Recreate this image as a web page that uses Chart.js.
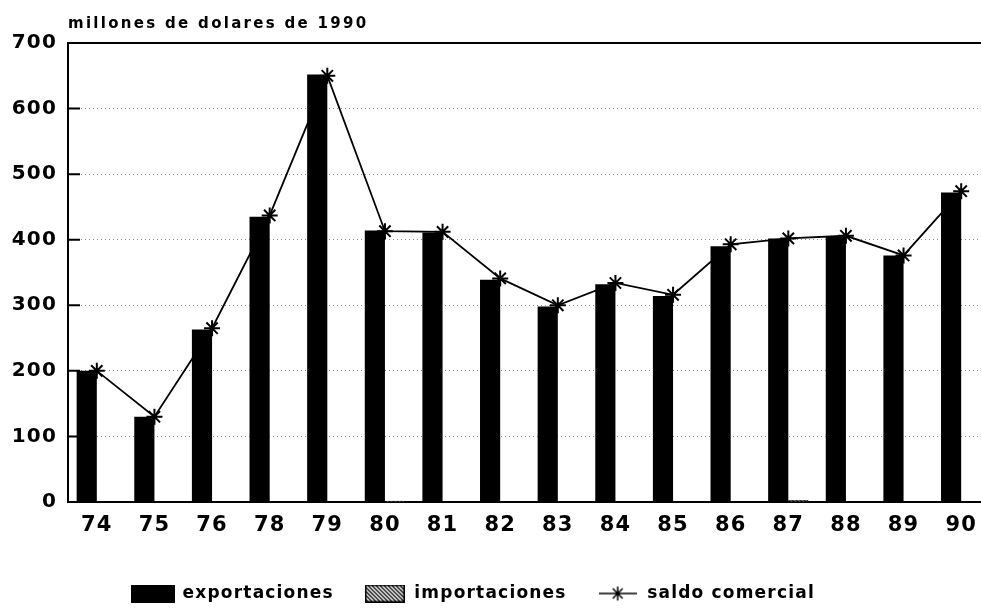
<!DOCTYPE html>
<html>
<head>
<meta charset="utf-8">
<script src="https://cdn.jsdelivr.net/npm/chart.js@4"></script>
<style>
  html, body { margin: 0; padding: 0; background: #fff; overflow: hidden; }
  #wrap { width: 1000px; height: 612px; position: relative; }
</style>
</head>
<body>
<div id="wrap"><canvas id="chart"></canvas></div>
<script>
// Datos (millones de dolares de 1990)
const anios = ["74","75","76","78","79","80","81","82","83","84","85","86","87","88","89","90"];
const exportaciones = [200,130,263,435,652,414,411,339,298,332,314,390,402,404,376,472];
const importaciones = [0,0,0,0,0,2,0,0,0,0,0,0,3,0,0,0];
const saldoComercial = [200,130,265,437,650,413,412,341,300,334,316,393,402,406,376,474];
const ticksY = [0,100,200,300,400,500,600,700];

const FONT = "'DejaVu Sans', sans-serif";
const SPACING = "1.2px";

// Trama rayada para importaciones
function makeHatch(w, h) {
  const c = document.createElement("canvas");
  c.width = w; c.height = h;
  const g = c.getContext("2d");
  g.fillStyle = "#fff";
  g.fillRect(0, 0, w, h);
  g.strokeStyle = "#000";
  g.lineWidth = 1.3;
  for (let i = -h; i < w + h; i += 4) {
    g.beginPath();
    g.moveTo(i, 0);
    g.lineTo(i + h, h);
    g.stroke();
  }
  return c;
}
const hatchTile = makeHatch(8, 8);
const hatchPattern = hatchTile.getContext("2d").createPattern(hatchTile, "repeat");

// Iconos de la leyenda
function boxIcon(w, h) {
  const c = document.createElement("canvas");
  c.width = w; c.height = h;
  const g = c.getContext("2d");
  g.fillStyle = "#000";
  g.fillRect(0, 0, w, h);
  return c;
}
function hatchIcon(w, h) {
  const c = makeHatch(w, h);
  const g = c.getContext("2d");
  g.strokeStyle = "#000";
  g.lineWidth = 1.5;
  g.strokeRect(0.75, 0.75, w - 1.5, h - 1.5);
  return c;
}
function starLineIcon(w, h) {
  const c = document.createElement("canvas");
  c.width = w; c.height = h;
  const g = c.getContext("2d");
  g.strokeStyle = "#000";
  g.lineWidth = 1.5;
  g.beginPath();
  g.moveTo(0, h / 2); g.lineTo(w, h / 2);
  const cx = w / 2, cy = h / 2, r = 7;
  for (let k = 0; k < 4; k++) {
    const a = k * Math.PI / 4;
    g.moveTo(cx - r * Math.cos(a), cy - r * Math.sin(a));
    g.lineTo(cx + r * Math.cos(a), cy + r * Math.sin(a));
  }
  g.stroke();
  return c;
}

// Titulo, marco superior, marcas interiores del eje Y y espaciado de letras
const extras = {
  id: "extras",
  beforeLayout(chart) { chart.ctx.letterSpacing = SPACING; },
  afterLayout(chart) {
    // la leyenda del original esta algo a la izquierda del centro
    chart.legend.left -= 22;
    chart.legend.right -= 22;
  },
  beforeDraw(chart) { chart.ctx.letterSpacing = SPACING; },
  afterDraw(chart) {
    const { ctx, chartArea } = chart;
    const y = chart.scales.y;
    ctx.save();
    ctx.strokeStyle = "#000";
    ctx.lineWidth = 2;
    ctx.beginPath();
    ctx.moveTo(chartArea.left, chartArea.top);
    ctx.lineTo(chartArea.right, chartArea.top);
    ticksY.forEach(v => {
      const py = y.getPixelForValue(v);
      ctx.moveTo(chartArea.left, py);
      ctx.lineTo(chartArea.left + 12, py);
    });
    ctx.stroke();
    ctx.fillStyle = "#000";
    ctx.font = "bold 15px " + FONT;
    ctx.letterSpacing = "2.3px";
    ctx.textBaseline = "alphabetic";
    ctx.fillText("millones de dolares de 1990", chartArea.left, 28);
    ctx.restore();
  }
};

new Chart(document.getElementById("chart"), {
  data: {
    labels: anios,
    datasets: [
      {
        type: "bar",
        label: "exportaciones",
        data: exportaciones,
        backgroundColor: "#000",
        order: 1
      },
      {
        type: "bar",
        label: "importaciones",
        data: importaciones,
        backgroundColor: hatchPattern,
        borderColor: "#000",
        borderWidth: 1,
        order: 1
      },
      {
        type: "line",
        label: "saldo comercial",
        data: saldoComercial,
        borderColor: "#000",
        borderWidth: 1.8,
        tension: 0,
        fill: false,
        pointStyle: "star",
        pointRadius: 8,
        pointBorderWidth: 2,
        pointBorderColor: "#000",
        pointBackgroundColor: "#000",
        order: 2
      }
    ]
  },
  options: {
    responsive: true,
    maintainAspectRatio: false,
    animation: false,
    datasets: {
      bar: { categoryPercentage: 0.7, barPercentage: 1.0 }
    },
    layout: { padding: { top: 43, right: 9, bottom: 0, left: 0 } },
    plugins: {
      tooltip: { enabled: false },
      legend: {
        position: "bottom",
        labels: {
          usePointStyle: true,
          pointStyleWidth: 42,
          boxHeight: 18,
          padding: 30,
          color: "#000",
          font: { family: FONT, size: 17, weight: "bold" },
          generateLabels: () => [
            { text: "exportaciones", pointStyle: boxIcon(44, 18), fontColor: "#000", hidden: false, datasetIndex: 0, lineWidth: 0 },
            { text: "importaciones", pointStyle: hatchIcon(40, 18), fontColor: "#000", hidden: false, datasetIndex: 1, lineWidth: 0 },
            { text: "saldo comercial", pointStyle: starLineIcon(38, 18), fontColor: "#000", hidden: false, datasetIndex: 2, lineWidth: 0 }
          ]
        }
      }
    },
    scales: {
      x: {
        offset: true,
        grid: { display: false, drawTicks: false },
        border: { display: true, color: "#000", width: 2 },
        ticks: {
          color: "#000",
          padding: 11,
          font: { family: FONT, size: 21, weight: "bold" },
          autoSkip: false,
          maxRotation: 0
        },
        afterFit(scale) { scale.height = 53; }
      },
      y: {
        min: 0,
        max: 700,
        afterBuildTicks(scale) { scale.ticks = ticksY.map(v => ({ value: v })); },
        grid: {
          color: "#8a8a8a",
          lineWidth: 1,
          drawTicks: false
        },
        border: { display: true, color: "#000", width: 2, dash: [1, 3] },
        ticks: {
          color: "#000",
          padding: 11,
          font: { family: FONT, size: 20, weight: "bold" }
        },
        afterFit(scale) { scale.width = 68; }
      }
    }
  },
  plugins: [extras]
});
</script>
</body>
</html>
